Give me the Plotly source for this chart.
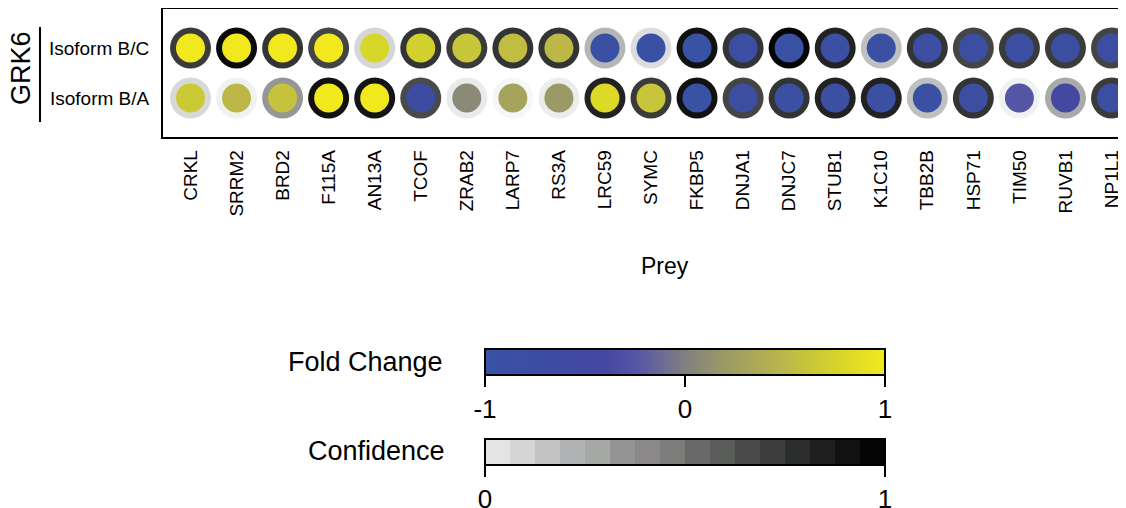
import plotly.graph_objects as go

preys = ["CRKL", "SRRM2", "BRD2", "F115A", "AN13A", "TCOF", "ZRAB2", "LARP7", "RS3A",
         "LRC59", "SYMC", "FKBP5", "DNJA1", "DNJC7", "STUB1", "K1C10", "TBB2B", "HSP71",
         "TIM50", "RUVB1", "NP1L1"]
baits = ["Isoform B/A", "Isoform B/C"]

# fold change (log scale, clipped to [-1, 1])
fc_bc = [1.0, 1.0, 1.0, 1.0, 0.78, 0.72, 0.62, 0.55, 0.5, -0.9, -0.9, -1.0, -0.8, -0.95,
         -0.85, -0.85, -0.8, -0.8, -0.8, -0.8, -0.8]
fc_ba = [0.66, 0.5, 0.6, 1.0, 1.0, -0.75, 0.08, 0.3, 0.2, 0.82, 0.62, -1.0, -0.8, -0.9,
         -0.85, -0.85, -0.9, -0.8, -0.25, -0.4, -0.8]
# confidence (0..1)
conf_bc = [0.76, 0.96, 0.79, 0.72, 0.13, 0.79, 0.76, 0.79, 0.79, 0.26, 0.10, 0.93, 0.79,
           0.98, 0.86, 0.22, 0.79, 0.72, 0.76, 0.76, 0.72]
conf_ba = [0.12, 0.02, 0.39, 0.93, 0.92, 0.70, 0.05, 0.0, 0.04, 0.86, 0.76, 0.93, 0.72,
           0.79, 0.86, 0.86, 0.22, 0.79, 0.02, 0.31, 0.76]

fc_ticks = [-1, 0, 1]
conf_ticks = [0, 1]

conf_steps = ["#e3e4e3", "#d5d5d5", "#c2c3c2", "#b1b2b3", "#a6a8a6", "#939393", "#8a8889",
              "#7c7d7b", "#6b6a6a", "#5b5d5b", "#4a4a4a", "#3e3e3e", "#2c2e2d", "#1f1f1f",
              "#111111", "#040404"]

fc_scale = [[0.0, "#3953a4"], [0.15, "#3d4ca0"], [0.3, "#4548a0"], [0.38, "#5656a6"],
            [0.44, "#6c6a96"], [0.5, "#808080"], [0.6, "#9b9a66"], [0.75, "#bbb848"],
            [0.88, "#d6d42a"], [1.0, "#f1e91e"]]
ring_scale = [[0.0, "#f5f6f6"], [1.0, "#000000"]]
n = len(conf_steps)
conf_disc = []
for k, c in enumerate(conf_steps):
    conf_disc.append([k / n, c])
    conf_disc.append([(k + 1) / n, c])

xs = list(range(len(preys)))
X = xs + xs
Y = [1] * len(preys) + [0] * len(preys)
FC = fc_bc + fc_ba
CF = conf_bc + conf_ba

FONT = "Liberation Sans, Arial, Helvetica, sans-serif"
OFF = 8  # page body margin
W, H = 1126 - OFF, 508 - OFF


def px(x):
    return (x - OFF) / W


def py(y):
    return 1 - (y - OFF) / H


def cbar(ticks, ytop):
    return dict(orientation="h", lenmode="pixels", len=400, thickness=26,
                x=px(685), xanchor="center", y=py(ytop), yanchor="top",
                xpad=0, ypad=0, outlinewidth=2, outlinecolor="black",
                ticks="outside", ticklen=11, tickwidth=2, tickcolor="black",
                tickvals=ticks, ticktext=[str(t) for t in ticks],
                tickfont=dict(size=26, color="black", family=FONT))


fig = go.Figure()
# outer ring = confidence
fig.add_trace(go.Scatter(
    x=X, y=Y, mode="markers", hoverinfo="skip", showlegend=False,
    marker=dict(size=41, color=CF, colorscale=ring_scale, cmin=0, cmax=1,
                line=dict(width=0), showscale=False)))
# inner fill = fold change
fig.add_trace(go.Scatter(
    x=X, y=Y, mode="markers", hoverinfo="skip", showlegend=False,
    marker=dict(size=29, color=FC, colorscale=fc_scale, cmin=-1, cmax=1,
                line=dict(width=0), showscale=True, colorbar=cbar(fc_ticks, 349))))
# confidence legend (point placed outside the axis range)
fig.add_trace(go.Scatter(
    x=[-5], y=[0], mode="markers", hoverinfo="skip", showlegend=False,
    marker=dict(size=1, color=[0.5], colorscale=conf_disc, cmin=0, cmax=1,
                showscale=True, colorbar=cbar(conf_ticks, 439))))

x0 = 163
spacing = 46.05
c0 = 190.5
xmin = -(c0 - x0) / spacing
xmax = xmin + (1126 - x0) / spacing
ytop, ybot = 9, 136.5
yc1, yc0 = 48, 98
ys = yc0 - yc1
ymax = 1 + (yc1 - ytop) / ys
ymin = -(ybot - yc0) / ys

fig.update_layout(
    width=W, height=H, margin=dict(l=0, r=0, t=0, b=0, autoexpand=False),
    paper_bgcolor="white", plot_bgcolor="white",
    font=dict(family=FONT, color="black"),
    xaxis=dict(domain=[px(x0), 1], range=[xmin, xmax], tickvals=xs, ticktext=preys,
               tickangle=-90, showgrid=False, zeroline=False, showline=True,
               linecolor="black", linewidth=2, mirror=True, automargin=False,
               ticks="outside", ticklen=4, tickcolor="rgba(0,0,0,0)",
               tickfont=dict(size=19, family=FONT, color="black")),
    yaxis=dict(domain=[py(ybot), py(ytop)], range=[ymin, ymax],
               tickvals=[0, 1], ticktext=baits, showgrid=False, zeroline=False,
               showline=True, linecolor="black", linewidth=2, mirror=False,
               automargin=False,
               ticks="outside", ticklen=8, tickcolor="rgba(0,0,0,0)",
               tickfont=dict(size=19, family=FONT, color="black")),
    shapes=[dict(type="line", xref="paper", yref="paper", x0=px(40), x1=px(40),
                 y0=py(27), y1=py(122), line=dict(color="black", width=2))],
    annotations=[
        dict(text="GRK6", x=px(21), y=py(68), xref="paper", yref="paper",
             showarrow=False, textangle=-90, font=dict(size=27, family=FONT, color="black"),
             xanchor="center", yanchor="middle"),
        dict(text="Prey", x=px(665), y=py(266), xref="paper", yref="paper",
             showarrow=False, font=dict(size=23, family=FONT, color="black"),
             xanchor="center", yanchor="middle"),
        dict(text="Fold Change", x=px(445), y=py(362), xref="paper", yref="paper",
             showarrow=False, font=dict(size=27, family=FONT, color="black"),
             xanchor="right", yanchor="middle"),
        dict(text="Confidence", x=px(447), y=py(451), xref="paper", yref="paper",
             showarrow=False, font=dict(size=27, family=FONT, color="black"),
             xanchor="right", yanchor="middle"),
    ],
)

fig.write_html("out.html")
